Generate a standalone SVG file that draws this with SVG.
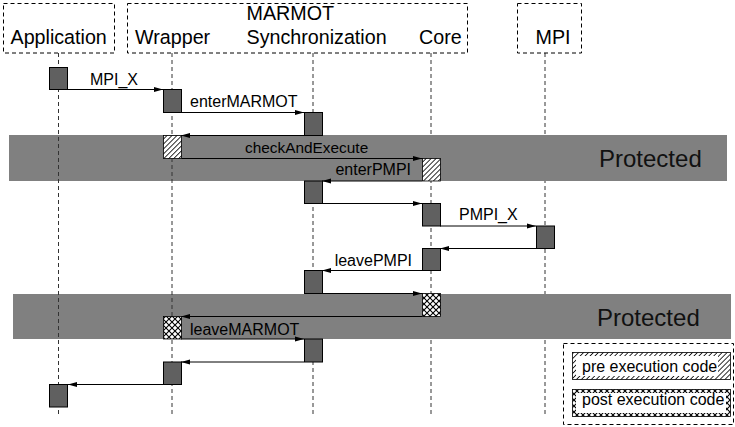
<svg xmlns="http://www.w3.org/2000/svg" width="735" height="427" viewBox="0 0 735 427">
<style>
text{font-family:"Liberation Sans",Arial,sans-serif;fill:#000}
.hdr{font-size:19.7px}
.lbl{font-size:16px}
.prot{font-size:24px;fill:#111}
.leg{font-size:16px}
.dbox{fill:none;stroke:#000;stroke-width:1;stroke-dasharray:4 3}
.life{stroke:#333;stroke-width:1;stroke-dasharray:4 3}
.act{fill:#606060;stroke:#000;stroke-width:1}
.pre{fill:url(#hatch);stroke:#000;stroke-width:0.8}
.post{fill:url(#cross);stroke:#000;stroke-width:0.8}
.band{fill:#808080}
.msg{stroke:#000;stroke-width:1;fill:none;marker-end:url(#ah)}
</style>
<defs>
<marker id="ah" markerWidth="9" markerHeight="6" refX="9" refY="3" orient="auto" markerUnits="userSpaceOnUse">
<path d="M0,0.5 L9,3 L0,5.5 z" fill="#000"/>
</marker>
<pattern id="hatch" width="3.5" height="3.5" patternUnits="userSpaceOnUse" patternTransform="rotate(45)">
<rect width="3.5" height="3.5" fill="#fff"/>
<line x1="0" y1="0" x2="0" y2="3.5" stroke="#000" stroke-width="1.6"/>
</pattern>
<pattern id="cross" width="6" height="6" patternUnits="userSpaceOnUse" x="1" y="1">
<rect width="6" height="6" fill="#fff"/>
<path d="M0,0 L6,6 M6,0 L0,6" stroke="#000" stroke-width="1.1"/>
</pattern>
</defs>

<g id="lifelines-back">
<line class="life" x1="313" y1="53" x2="313" y2="414"/>
<line class="life" x1="431" y1="53" x2="431" y2="414"/>
<line class="life" x1="545" y1="53" x2="545" y2="414"/>
</g>

<g id="protected-1">
<rect class="band" x="9" y="135" width="718" height="46"/>
<text class="prot" x="599" y="167">Protected</text>
</g>
<g id="protected-2">
<rect class="band" x="13" y="294" width="718" height="45"/>
<text class="prot" x="597" y="326">Protected</text>
</g>

<g id="lifelines-front">
<line class="life" x1="58.5" y1="53" x2="58.5" y2="414"/>
<line class="life" x1="172" y1="53" x2="172" y2="414"/>
</g>

<g id="application">
<rect class="dbox" x="3.5" y="3.5" width="111" height="49.5"/>
<text class="hdr" x="10.5" y="44">Application</text>
</g>
<g id="marmot">
<rect class="dbox" x="127.5" y="3.5" width="340" height="49.5"/>
<text class="hdr" x="246.5" y="20">MARMOT</text>
<text class="hdr" x="135" y="44">Wrapper</text>
<text class="hdr" x="246.5" y="44">Synchronization</text>
<text class="hdr" x="419" y="44">Core</text>
</g>
<g id="mpi">
<rect class="dbox" x="517.5" y="3.5" width="64" height="49.5"/>
<text class="hdr" x="535.5" y="44">MPI</text>
</g>

<g id="connectors">
<line class="msg" x1="68" y1="89.5" x2="163" y2="89.5"/>
<line class="msg" x1="181" y1="112.5" x2="304" y2="112.5"/>
<line class="msg" x1="304" y1="135.5" x2="181" y2="135.5"/>
<line class="msg" x1="181" y1="158.5" x2="422" y2="158.5"/>
<line class="msg" x1="422" y1="181" x2="322" y2="181"/>
<line class="msg" x1="322" y1="203.5" x2="422" y2="203.5"/>
<line class="msg" x1="440" y1="226" x2="536" y2="226"/>
<line class="msg" x1="536" y1="248.5" x2="440" y2="248.5"/>
<line class="msg" x1="422" y1="270.5" x2="322" y2="270.5"/>
<line class="msg" x1="322" y1="293.5" x2="422" y2="293.5"/>
<line class="msg" x1="422" y1="316.5" x2="181" y2="316.5"/>
<line class="msg" x1="181" y1="339" x2="304" y2="339"/>
<line class="msg" x1="304" y1="362" x2="181" y2="362"/>
<line class="msg" x1="163" y1="384.5" x2="68" y2="384.5"/>
<text class="lbl" x="90" y="85">MPI_X</text>
<text class="lbl" x="190" y="107">enterMARMOT</text>
<text class="lbl" x="245" y="153" style="font-size:15.4px">checkAndExecute</text>
<text class="lbl" x="411" y="175" text-anchor="end">enterPMPI</text>
<text class="lbl" x="459" y="220">PMPI_X</text>
<text class="lbl" x="412" y="266" text-anchor="end">leavePMPI</text>
<text class="lbl" x="190" y="335">leaveMARMOT</text>
</g>

<g id="activations">
<rect class="act" x="49.5" y="67.5" width="18" height="22"/>
<rect class="act" x="163.5" y="89.5" width="18" height="23"/>
<rect class="act" x="304.5" y="112.5" width="18" height="23"/>
<rect class="pre" x="163.5" y="135.5" width="18" height="23"/>
<rect class="pre" x="422.5" y="158.5" width="18" height="22.5"/>
<rect class="act" x="304.5" y="181" width="18" height="22.5"/>
<rect class="act" x="422.5" y="203.5" width="18" height="22.5"/>
<rect class="act" x="536.5" y="226" width="18" height="22.5"/>
<rect class="act" x="422.5" y="248.5" width="18" height="22"/>
<rect class="act" x="304.5" y="270.5" width="18" height="23"/>
<rect class="post" x="422.5" y="293.5" width="18" height="23"/>
<rect class="post" x="163.5" y="316.5" width="18" height="22.5"/>
<rect class="act" x="304.5" y="339" width="18" height="23"/>
<rect class="act" x="163.5" y="362" width="18" height="22.5"/>
<rect class="act" x="49.5" y="384.5" width="18" height="22.5"/>
</g>

<g id="legend">
<rect class="dbox" x="563.5" y="343.5" width="170" height="81"/>
<rect fill="url(#hatch)" stroke="#000" stroke-width="0.8" x="572.5" y="352.5" width="158" height="27"/>
<rect fill="#fff" x="576" y="356" width="142" height="20"/>
<text class="leg" x="582" y="372">pre execution code</text>
<rect fill="url(#cross)" stroke="#000" stroke-width="0.8" x="572.5" y="389.5" width="158" height="27"/>
<rect fill="#fff" x="576" y="393" width="150" height="20"/>
<text class="leg" x="582" y="405">post execution code</text>
</g>
</svg>
